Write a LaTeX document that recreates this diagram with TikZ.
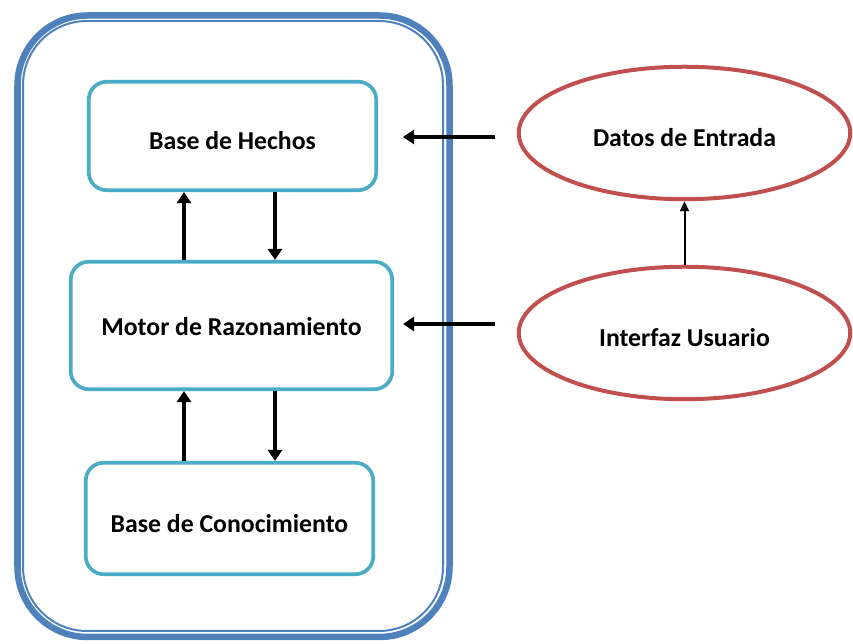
\documentclass[tikz,border=0pt]{standalone}
\usepackage{fontspec}
\setmainfont{Carlito}
\usepackage{tikz}
\usetikzlibrary{calc}
\usetikzlibrary{shapes.geometric}
\usetikzlibrary{positioning}
\usetikzlibrary {arrows.meta}

\definecolor{frameblue}{HTML}{4F81BD}
\definecolor{boxcyan}{HTML}{4BACC6}
\definecolor{ellred}{HTML}{C0504D}

\begin{document}
\begin{tikzpicture}[
    basenode/.style={rectangle, rounded corners=0.54cm, draw=boxcyan, line width=0.11cm, fill=white, text height=0.84cm, text depth=0cm, font=\fontsize{22}{26}\selectfont\bfseries},
    datanode/.style={ellipse, draw=ellred, line width=0.12cm, fill=white, minimum width=9.945cm, minimum height=3.975cm, text height=0.84cm, text depth=0cm, font=\fontsize{22}{26}\selectfont\bfseries},
    bigarrow/.style={line width=0.13cm, -{Triangle[length=0.33cm, width=0.42cm]}},
    thinarrow/.style={line width=0.06cm, -{Triangle[length=0.3cm, width=0.27cm]}}
]
    \useasboundingbox (0, 0) rectangle (25.59, 19.32);
    % Sistema experto
    % - [Fig: the frame around the system]
    \draw [frameblue, line width=0.195cm, rounded corners=2.1cm] (0.525, 0.21) rectangle (13.485, 18.855);
    \draw [frameblue, line width=0.06cm, rounded corners=1.92cm] (0.69, 0.39) rectangle (13.29, 18.69);
    % - [Fig: the three blocks]
    \node at (6.975, 15.24) [basenode, minimum width=8.625cm, minimum height=3.255cm](hechos){Base de Hechos};
    \node at (6.945, 9.555) [basenode, minimum width=9.645cm, minimum height=3.825cm, text height=0.6cm](motor){Motor de Razonamiento};
    \node at (6.885, 3.765) [basenode, minimum width=8.625cm, minimum height=3.345cm](conocimiento){Base de Conocimiento};
    % -- The arrows between the blocks
    \coordinate (colL) at (5.52, 0);
    \coordinate (colR) at (8.25, 0);
    \draw [bigarrow] (motor.north -| colL) -- (hechos.south -| colL) ;
    \draw [bigarrow] (hechos.south -| colR) -- (motor.north -| colR) ;
    \draw [bigarrow] (conocimiento.north -| colL) -- (motor.south -| colL) ;
    \draw [bigarrow] (motor.south -| colR) -- (conocimiento.north -| colR) ;

    % Entradas
    % - [Fig: the two ellipses]
    \node at (20.535, 15.33) [datanode](datos){Datos de Entrada};
    \node at (20.535, 9.33) [datanode](interfaz){Interfaz Usuario};
    \draw [thinarrow] (interfaz.north) -- (datos.south) ;
    % -- The arrows into the frame
    \coordinate (datosOut) at (14.85, 15.21);
    \coordinate (hechosIn) at (12.09, 15.21);
    \coordinate (interfazOut) at (14.85, 9.6);
    \coordinate (motorIn) at (12.09, 9.6);
    \draw [bigarrow] (datosOut) -- (hechosIn) ;
    \draw [bigarrow] (interfazOut) -- (motorIn) ;
\end{tikzpicture}
\end{document}
